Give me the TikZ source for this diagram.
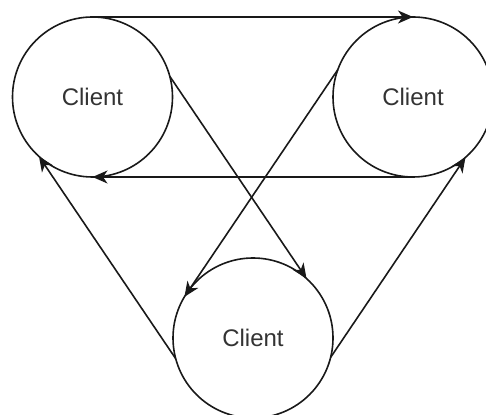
\documentclass[tikz,border=0pt]{standalone}
\usepackage{fontspec}
\setmainfont{Liberation Sans}
\usetikzlibrary{arrows.meta}
\begin{document}
\begin{tikzpicture}[x=1pt,y=1pt,
  client/.style={circle, draw=black!90, line width=1.6pt, minimum size=160pt, inner sep=0pt, outer sep=0pt,
    font=\fontsize{24}{28}\selectfont, text=black!80},
  conn/.style={draw=black!90, line width=1.6pt, -{Stealth[length=15pt,width=13pt,inset=4.5pt]}}]
\clip (0,0) rectangle (486,414);
\node[client] (L) at (92.5,317) {Client};
\node[client] (R) at (413,317) {Client};
\node[client] (B) at (253,76) {Client};
\draw[conn] (L.north) -- (R.north);
\draw[conn] (R.south) -- (L.south);
\draw[conn] (L.15) -- (B.48);
\draw[conn] (R.160) -- (B.149);
\draw[conn] (B.195) -- (L.228);
\draw[conn] (B.-14) -- (R.-49);
\end{tikzpicture}
\end{document}
